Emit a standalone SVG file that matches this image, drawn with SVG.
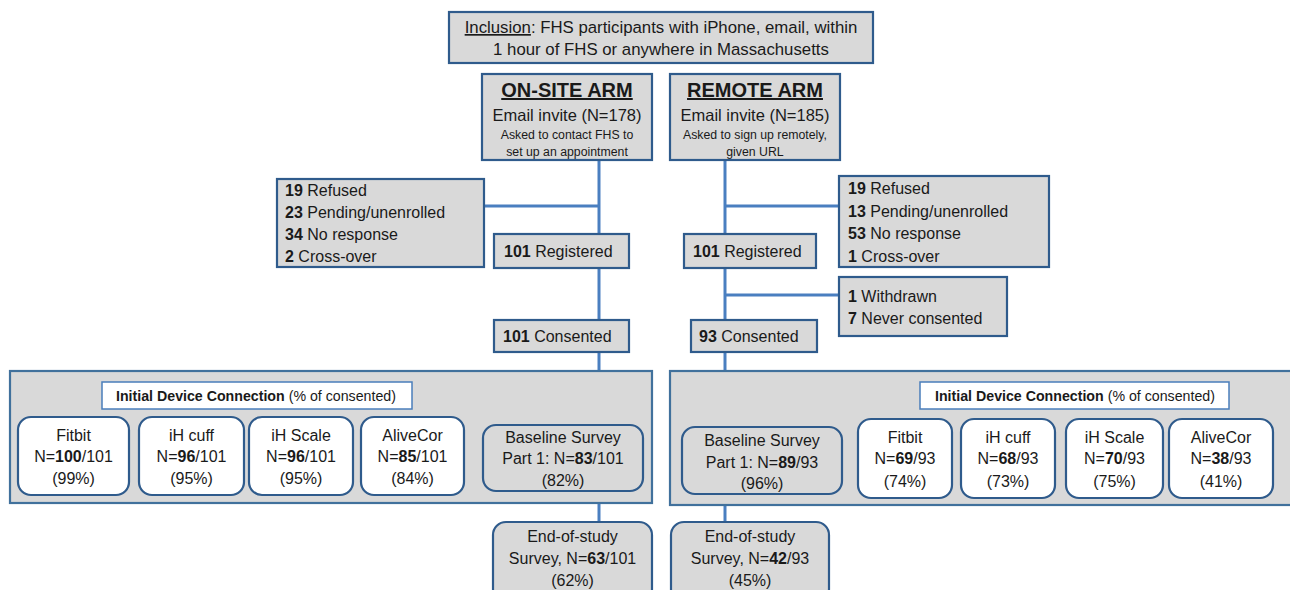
<svg xmlns="http://www.w3.org/2000/svg" width="1290" height="590" viewBox="0 0 1290 590">
<style>
text{font-family:"Liberation Sans",Arial,sans-serif;fill:#1a1a1a;}
.box{fill:#d9d9d9;stroke:#2f5b8c;stroke-width:2.2;}
.panel{fill:#d9d9d9;stroke:#41719c;stroke-width:2.2;}
.dev{fill:#ffffff;stroke:#2f5b8c;stroke-width:2.2;}
.rbox{fill:#d9d9d9;stroke:#2f5b8c;stroke-width:2.2;}
.title{fill:#ffffff;stroke:#4a7ebb;stroke-width:1.5;}
.conn{stroke:#4a7fc0;stroke-width:3;fill:none;}
.c{text-anchor:middle;}
.f16{font-size:16px;}
.b{font-weight:bold;}
</style>
<g id="connectors">
<line class="conn" x1="599" y1="160" x2="599" y2="234"/>
<line class="conn" x1="484" y1="206" x2="599" y2="206"/>
<line class="conn" x1="599" y1="268" x2="599" y2="320"/>
<line class="conn" x1="599" y1="352" x2="599" y2="371"/>
<line class="conn" x1="599" y1="503" x2="599" y2="522"/>
<line class="conn" x1="725" y1="160" x2="725" y2="234"/>
<line class="conn" x1="725" y1="206" x2="839" y2="206"/>
<line class="conn" x1="725" y1="268" x2="725" y2="320"/>
<line class="conn" x1="725" y1="295" x2="839" y2="295"/>
<line class="conn" x1="725" y1="352" x2="725" y2="371"/>
<line class="conn" x1="725" y1="503" x2="725" y2="522"/>
</g>
<g id="inclusion">
<rect class="box" x="449" y="12" width="424" height="51"/>
<text class="c" x="661" y="33" font-size="16.8"><tspan text-decoration="underline">Inclusion</tspan>: FHS participants with iPhone, email, within</text>
<text class="c" x="661" y="55" font-size="16.8">1 hour of FHS or anywhere in Massachusetts</text>
</g>
<g id="onsite-arm">
<rect class="box" x="482" y="74" width="170" height="86"/>
<text class="c b" x="567" y="97" font-size="20" text-decoration="underline">ON-SITE ARM</text>
<text class="c" x="567" y="121" font-size="16.5">Email invite (N=178)</text>
<text class="c" x="567" y="139" font-size="12.3">Asked to contact FHS to</text>
<text class="c" x="567" y="156" font-size="12.3">set up an appointment</text>
</g>
<g id="remote-arm">
<rect class="box" x="670" y="74" width="170" height="86"/>
<text class="c b" x="755" y="97" font-size="20" text-decoration="underline">REMOTE ARM</text>
<text class="c" x="755" y="121" font-size="16.5">Email invite (N=185)</text>
<text class="c" x="755" y="139" font-size="12.3">Asked to sign up remotely,</text>
<text class="c" x="755" y="156" font-size="12.3">given URL</text>
</g>
<g id="onsite-excluded">
<rect class="box" x="277" y="179" width="207" height="88"/>
<text class="f16" x="285" y="196"><tspan class="b">19</tspan> Refused</text>
<text class="f16" x="285" y="218"><tspan class="b">23</tspan> Pending/unenrolled</text>
<text class="f16" x="285" y="240"><tspan class="b">34</tspan> No response</text>
<text class="f16" x="285" y="262"><tspan class="b">2</tspan> Cross-over</text>
</g>
<g id="remote-excluded">
<rect class="box" x="839" y="176" width="210" height="91"/>
<text class="f16" x="848" y="194"><tspan class="b">19</tspan> Refused</text>
<text class="f16" x="848" y="217"><tspan class="b">13</tspan> Pending/unenrolled</text>
<text class="f16" x="848" y="239"><tspan class="b">53</tspan> No response</text>
<text class="f16" x="848" y="262"><tspan class="b">1</tspan> Cross-over</text>
</g>
<g id="onsite-registered">
<rect class="box" x="494" y="234" width="135" height="34"/>
<text class="f16" x="504" y="257"><tspan class="b">101</tspan> Registered</text>
</g>
<g id="remote-registered">
<rect class="box" x="684" y="234" width="132" height="34"/>
<text class="f16" x="693" y="257"><tspan class="b">101</tspan> Registered</text>
</g>
<g id="remote-withdrawn">
<rect class="box" x="839" y="277" width="168" height="59"/>
<text class="f16" x="848" y="302"><tspan class="b">1</tspan> Withdrawn</text>
<text class="f16" x="848" y="324"><tspan class="b">7</tspan> Never consented</text>
</g>
<g id="onsite-consented">
<rect class="box" x="494" y="320" width="135" height="32"/>
<text class="f16" x="503" y="342"><tspan class="b">101</tspan> Consented</text>
</g>
<g id="remote-consented">
<rect class="box" x="691" y="320" width="126" height="32"/>
<text class="f16" x="699" y="342"><tspan class="b">93</tspan> Consented</text>
</g>
<g id="onsite-panel">
<rect class="panel" x="10" y="371" width="642" height="132"/>
<rect class="title" x="102" y="382" width="310" height="27"/>
<text x="116" y="401" font-size="14.2"><tspan class="b">Initial Device Connection</tspan> (% of consented)</text>
</g>
<g id="onsite-fitbit">
<rect class="dev" x="18" y="417" width="111" height="78" rx="13"/>
<text class="c f16" x="73.5" y="441">Fitbit</text>
<text class="c f16" x="73.5" y="462">N=<tspan class="b">100</tspan>/101</text>
<text class="c f16" x="73.5" y="484">(99%)</text>
</g>
<g id="onsite-cuff">
<rect class="dev" x="139" y="417" width="105" height="78" rx="13"/>
<text class="c f16" x="191.5" y="441">iH cuff</text>
<text class="c f16" x="191.5" y="462">N=<tspan class="b">96</tspan>/101</text>
<text class="c f16" x="191.5" y="484">(95%)</text>
</g>
<g id="onsite-scale">
<rect class="dev" x="249" y="417" width="104" height="78" rx="13"/>
<text class="c f16" x="301" y="441">iH Scale</text>
<text class="c f16" x="301" y="462">N=<tspan class="b">96</tspan>/101</text>
<text class="c f16" x="301" y="484">(95%)</text>
</g>
<g id="onsite-alivecor">
<rect class="dev" x="361" y="417" width="103" height="78" rx="13"/>
<text class="c f16" x="412.5" y="441">AliveCor</text>
<text class="c f16" x="412.5" y="462">N=<tspan class="b">85</tspan>/101</text>
<text class="c f16" x="412.5" y="484">(84%)</text>
</g>
<g id="onsite-baseline">
<rect class="rbox" x="483" y="425" width="160" height="66" rx="13"/>
<text class="c f16" x="563" y="443">Baseline Survey</text>
<text class="c f16" x="563" y="464">Part 1: N=<tspan class="b">83</tspan>/101</text>
<text class="c f16" x="563" y="486">(82%)</text>
</g>
<g id="remote-panel">
<rect class="panel" x="670" y="371" width="622" height="134"/>
<rect class="title" x="920" y="382" width="309" height="27"/>
<text x="935" y="401" font-size="14.2"><tspan class="b">Initial Device Connection</tspan> (% of consented)</text>
</g>
<g id="remote-baseline">
<rect class="rbox" x="682" y="427" width="160" height="67" rx="13"/>
<text class="c f16" x="762" y="446">Baseline Survey</text>
<text class="c f16" x="762" y="468">Part 1: N=<tspan class="b">89</tspan>/93</text>
<text class="c f16" x="762" y="489">(96%)</text>
</g>
<g id="remote-fitbit">
<rect class="dev" x="858" y="419" width="94" height="79" rx="13"/>
<text class="c f16" x="905" y="443">Fitbit</text>
<text class="c f16" x="905" y="464">N=<tspan class="b">69</tspan>/93</text>
<text class="c f16" x="905" y="487">(74%)</text>
</g>
<g id="remote-cuff">
<rect class="dev" x="961" y="419" width="94" height="79" rx="13"/>
<text class="c f16" x="1008" y="443">iH cuff</text>
<text class="c f16" x="1008" y="464">N=<tspan class="b">68</tspan>/93</text>
<text class="c f16" x="1008" y="487">(73%)</text>
</g>
<g id="remote-scale">
<rect class="dev" x="1066" y="419" width="97" height="79" rx="13"/>
<text class="c f16" x="1114.5" y="443">iH Scale</text>
<text class="c f16" x="1114.5" y="464">N=<tspan class="b">70</tspan>/93</text>
<text class="c f16" x="1114.5" y="487">(75%)</text>
</g>
<g id="remote-alivecor">
<rect class="dev" x="1169" y="419" width="104" height="79" rx="13"/>
<text class="c f16" x="1221" y="443">AliveCor</text>
<text class="c f16" x="1221" y="464">N=<tspan class="b">38</tspan>/93</text>
<text class="c f16" x="1221" y="487">(41%)</text>
</g>
<g id="onsite-endofstudy">
<rect class="rbox" x="493" y="522" width="159" height="80" rx="13"/>
<text class="c f16" x="572.5" y="542">End-of-study</text>
<text class="c f16" x="572.5" y="564">Survey, N=<tspan class="b">63</tspan>/101</text>
<text class="c f16" x="572.5" y="586">(62%)</text>
</g>
<g id="remote-endofstudy">
<rect class="rbox" x="671" y="522" width="158" height="80" rx="13"/>
<text class="c f16" x="750" y="542">End-of-study</text>
<text class="c f16" x="750" y="564">Survey, N=<tspan class="b">42</tspan>/93</text>
<text class="c f16" x="750" y="586">(45%)</text>
</g>
</svg>
